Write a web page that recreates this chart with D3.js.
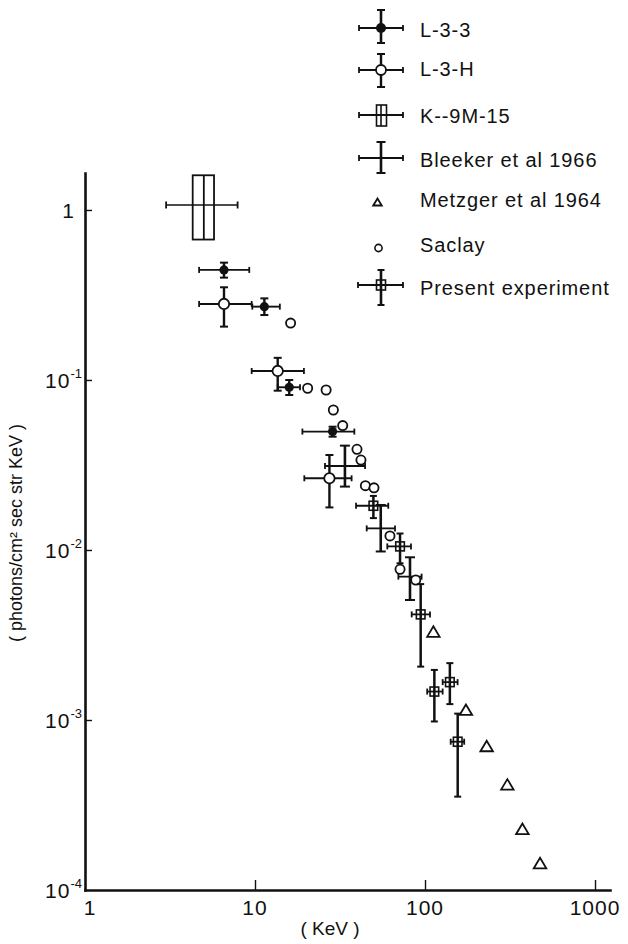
<!DOCTYPE html>
<html><head><meta charset="utf-8">
<script src="https://cdn.jsdelivr.net/npm/d3@7"></script>
<style>
body{margin:0;background:#fff}
svg{display:block}
text{font-family:"Liberation Sans",Arial,sans-serif;fill:#111}
</style>
</head><body>
<svg id="c" width="628" height="944"></svg>
<script>
// ---------------- data (keV, photons/cm2 sec str keV) ----------------
const l33 = [
  {x:6.57, y:0.444, xlo:4.69, xhi:9.25, ylo:0.40, yhi:0.49},
  {x:11.35,y:0.27,  xlo:9.64, xhi:14.0, ylo:0.241,yhi:0.302},
  {x:15.9, y:0.0906,xlo:13.6, xhi:18.4, ylo:0.0816,yhi:0.100},
  {x:28.6, y:0.0497,xlo:19.0, xhi:38.4, ylo:0.0464,yhi:0.0531}
];
const l3h = [
  {x:6.57, y:0.28,  xlo:4.69, xhi:9.56, ylo:0.206, yhi:0.351},
  {x:13.6, y:0.113, xlo:9.56, xhi:19.4, ylo:0.0865,yhi:0.135},
  {x:27.4, y:0.0264,xlo:19.5, xhi:37.0, ylo:0.0178,yhi:0.0362}
];
const k9m15 = [
  {x:5.0, y:1.07, xlo:3.0, xhi:7.9, bxlo:4.3, bxhi:5.74, ylo:0.67, yhi:1.6}
];
const bleeker = [
  {x:33.8, y:0.0312, xlo:25.8, xhi:44.4, ylo:0.0236, yhi:0.0411},
  {x:54.9, y:0.0134, xlo:45.4, xhi:66.6, ylo:0.0098, yhi:0.0184},
  {x:81.6, y:0.00697,xlo:69.7, xhi:95.5, ylo:0.00508,yhi:0.00906}
];
const metzgerX = [112, 174, 230.6, 305, 374, 475];
const metzgerY = [0.00331, 0.00115, 0.000703, 0.000418, 0.000229, 0.000144];
const saclayX = [16.2, 20.4, 26.2, 28.9, 32.8, 39.8, 42.0, 44.6, 50.1, 62.2, 71.3, 88.2];
const saclayY = [0.216, 0.0894, 0.0873, 0.0666, 0.0539, 0.0391, 0.0338, 0.0239, 0.0232, 0.0121, 0.0077, 0.00666];
const present = [
  {x:49.7, y:0.0182, xlo:39.3, xhi:60.8, ylo:0.0154, yhi:0.0208},
  {x:71.3, y:0.0105, xlo:60.0, xhi:82.7, ylo:0.00835,yhi:0.0125},
  {x:94.3, y:0.00418,xlo:83.5, xhi:107,  ylo:0.00206,yhi:0.0063},
  {x:113.5,y:0.00147,xlo:103,  xhi:127,  ylo:0.00098,yhi:0.00197},
  {x:140,  y:0.00167,xlo:127,  xhi:155.5,ylo:0.00124,yhi:0.00216},
  {x:155.7,y:0.000745,xlo:141.6,xhi:170, ylo:0.000354,yhi:0.00109}
];
const xTickVals = [1, 10, 100, 1000];
const xTickLabels = ["1", "10", "100", "1000"];
const yTickVals = [1, 0.1, 0.01, 0.001, 0.0001];
const yTickExp = ["", "-1", "-2", "-3", "-4"];
const legendLabels = ["L-3-3", "L-3-H", "K--9M-15", "Bleeker et al 1966", "Metzger et al 1964", "Saclay", "Present experiment"];
const xTitle = "( KeV )";
const yTitle = "( photons/cm\u00B2 sec str KeV )";
const xDomain = [1, 1225];
const yDomain = [1e-4, 1.65];

// ---------------- drawing ----------------
const svg = d3.select("#c");
const x = d3.scaleLog().domain(xDomain).range([85, 610]);
const y = d3.scaleLog().domain(yDomain).range([890, 173]);
const ink = "#111";

// axes
const gx = svg.append("g").attr("transform","translate(0,890)")
  .call(d3.axisBottom(x).tickValues(xTickVals.slice(1)).tickSize(-10).tickSizeOuter(0).tickFormat(""));
const gy = svg.append("g").attr("transform","translate(85,0)")
  .call(d3.axisLeft(y).tickValues(yTickVals.slice(0,4)).tickSize(-7).tickSizeOuter(0).tickFormat(""));
[gx, gy].forEach(g => {
  g.select(".domain").attr("stroke", ink).attr("stroke-width", 2.6).attr("stroke-linecap","square");
  g.selectAll(".tick line").attr("stroke", ink).attr("stroke-width", 1.4);
});

// tick labels
svg.append("g").selectAll("text").data(xTickVals).join("text")
  .attr("x", (d,i) => x(d) + (i===0 ? 5 : 0))
  .attr("y", 915)
  .attr("text-anchor","middle")
  .attr("font-size", 21)
  .attr("letter-spacing", 1)
  .text((d,i) => xTickLabels[i]);

const yl = svg.append("g").selectAll("text").data(yTickVals).join("text")
  .attr("x", (d,i) => i===0 ? 74 : 82)
  .attr("y", d => y(d) + 8)
  .attr("text-anchor","end")
  .attr("font-size", 21);
yl.each(function(d,i){
  const t = d3.select(this);
  if (i===0) { t.text("1"); return; }
  t.append("tspan").attr("letter-spacing", 1).text("10");
  t.append("tspan").attr("font-size", 13).attr("dy", -10).text(yTickExp[i]);
});

// axis titles
svg.append("text").attr("x", 330).attr("y", 935).attr("text-anchor","middle")
  .attr("font-size", 19).text(xTitle);
svg.append("text").attr("transform","translate(22,533) rotate(-90)")
  .attr("text-anchor","middle").attr("font-size", 18).text(yTitle);

// helpers
function hbar(g, x1, x2, yy, cap, w){
  g.append("line").attr("x1",x1).attr("x2",x2).attr("y1",yy).attr("y2",yy).attr("stroke",ink).attr("stroke-width",w);
  [x1,x2].forEach(xx => g.append("line").attr("x1",xx).attr("x2",xx).attr("y1",yy-cap).attr("y2",yy+cap).attr("stroke",ink).attr("stroke-width",1.8));
}
function vbar(g, xx, y1, y2, cap, w){
  g.append("line").attr("x1",xx).attr("x2",xx).attr("y1",y1).attr("y2",y2).attr("stroke",ink).attr("stroke-width",w);
  [y1,y2].forEach(yy => g.append("line").attr("x1",xx-cap).attr("x2",xx+cap).attr("y1",yy).attr("y2",yy).attr("stroke",ink).attr("stroke-width",2));
}
function tri(g, cx, cy, w, h){
  g.append("path").attr("d", `M${cx-w/2},${cy+h/2}L${cx},${cy-h/2}L${cx+w/2},${cy+h/2}Z`)
   .attr("fill","none").attr("stroke",ink).attr("stroke-width",1.8).attr("stroke-linejoin","miter");
}

const plot = svg.append("g");

// K-9M-15
k9m15.forEach(d => {
  const g = plot.append("g");
  g.append("rect").attr("x", x(d.bxlo)).attr("width", x(d.bxhi)-x(d.bxlo))
    .attr("y", y(d.yhi)).attr("height", y(d.ylo)-y(d.yhi))
    .attr("fill","none").attr("stroke",ink).attr("stroke-width",1.8);
  g.append("line").attr("x1",x(d.x)).attr("x2",x(d.x)).attr("y1",y(d.yhi)).attr("y2",y(d.ylo)).attr("stroke",ink).attr("stroke-width",1.8);
  hbar(g, x(d.xlo), x(d.xhi), y(d.y), 3.5, 1.6);
});

// Bleeker (plain cross)
bleeker.forEach(d => {
  const g = plot.append("g");
  hbar(g, x(d.xlo), x(d.xhi), y(d.y), 3, 1.8);
  vbar(g, x(d.x), y(d.yhi), y(d.ylo), 5, 2.6);
});

// Saclay
saclayX.forEach((v,i) => {
  plot.append("circle").attr("cx", x(v)).attr("cy", y(saclayY[i])).attr("r", 4.6)
    .attr("fill","#fff").attr("stroke",ink).attr("stroke-width",1.8);
});

// L-3-H
l3h.forEach(d => {
  const g = plot.append("g");
  hbar(g, x(d.xlo), x(d.xhi), y(d.y), 3, 1.9);
  vbar(g, x(d.x), y(d.yhi), y(d.ylo), 4, 2.4);
  g.append("circle").attr("cx", x(d.x)).attr("cy", y(d.y)).attr("r", 5.2)
    .attr("fill","#fff").attr("stroke",ink).attr("stroke-width",1.8);
});

// L-3-3
l33.forEach(d => {
  const g = plot.append("g");
  hbar(g, x(d.xlo), x(d.xhi), y(d.y), 3, 1.9);
  vbar(g, x(d.x), y(d.yhi), y(d.ylo), 4, 2.4);
  g.append("circle").attr("cx", x(d.x)).attr("cy", y(d.y)).attr("r", 4.6).attr("fill",ink);
});

// Present experiment
present.forEach(d => {
  const g = plot.append("g");
  hbar(g, x(d.xlo), x(d.xhi), y(d.y), 3, 1.8);
  vbar(g, x(d.x), y(d.yhi), y(d.ylo), 3.5, 2.5);
  g.append("rect").attr("x", x(d.x)-4.3).attr("y", y(d.y)-4.5).attr("width",8.6).attr("height",9)
    .attr("fill","none").attr("stroke",ink).attr("stroke-width",1.6);
});

// Metzger triangles
metzgerX.forEach((v,i) => tri(plot, x(v), y(metzgerY[i]), 12.5, 10.5));

// ---------------- legend ----------------
const lg = svg.append("g");
const lx = 381, tx = 420;
const rows = [28, 70, 115, 158, 202, 248, 285];
const base = [37, 76, 122.5, 166.5, 207, 251.5, 295];
legendLabels.forEach((s,i) => lg.append("text").attr("x", tx).attr("y", base[i])
  .attr("font-size", 20).attr("letter-spacing", 0.9).text(s));
// L-3-3
hbar(lg, 359, 403, rows[0], 3, 2); vbar(lg, lx, 10, 43, 4, 2.6);
lg.append("circle").attr("cx",lx).attr("cy",rows[0]).attr("r",5).attr("fill",ink);
// L-3-H
hbar(lg, 359, 403, rows[1], 3, 2); vbar(lg, lx, 54, 87, 4, 2.4);
lg.append("circle").attr("cx",lx).attr("cy",rows[1]).attr("r",5).attr("fill","#fff").attr("stroke",ink).attr("stroke-width",1.8);
// K-9M-15
hbar(lg, 359, 403, rows[2], 3, 1.8);
lg.append("rect").attr("x",376.5).attr("y",105).attr("width",10).attr("height",21).attr("fill","none").attr("stroke",ink).attr("stroke-width",1.6);
lg.append("line").attr("x1",lx).attr("x2",lx).attr("y1",105).attr("y2",126).attr("stroke",ink).attr("stroke-width",1.6);
// Bleeker
hbar(lg, 359, 403, rows[3], 3, 1.8); vbar(lg, lx, 142, 173, 4.5, 2.6);
// Metzger
tri(lg, 377.5, rows[4], 8.5, 7);
// Saclay
lg.append("circle").attr("cx",378.5).attr("cy",rows[5]).attr("r",3.6).attr("fill","none").attr("stroke",ink).attr("stroke-width",1.6);
// Present
hbar(lg, 358, 403, rows[6], 3, 2); vbar(lg, lx, 270, 305, 3.5, 2.6);
lg.append("rect").attr("x",lx-4.5).attr("y",rows[6]-5).attr("width",9).attr("height",10).attr("fill","none").attr("stroke",ink).attr("stroke-width",1.6);
</script>
</body></html>
